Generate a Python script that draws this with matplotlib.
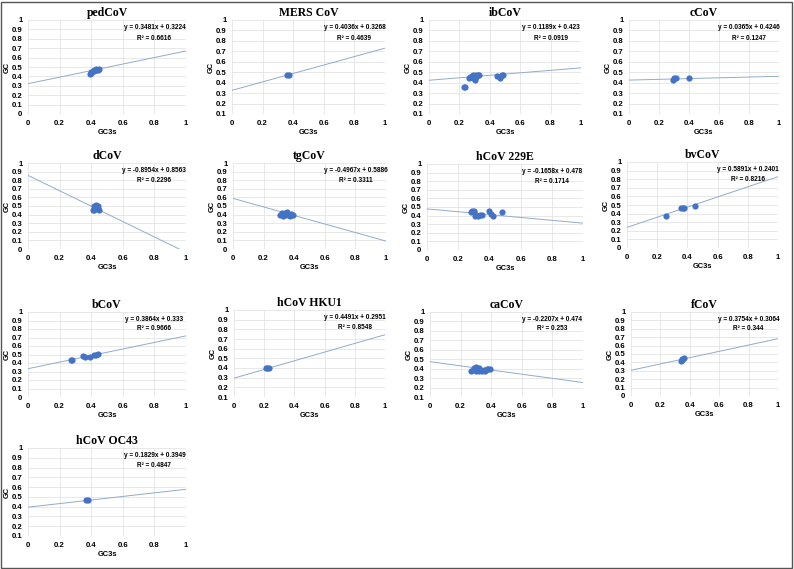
import matplotlib
matplotlib.use("Agg")
import matplotlib.pyplot as plt
from matplotlib import font_manager
import numpy as np
from matplotlib.patches import Rectangle

# ---------------- data ----------------
titles = ["pedCoV", "MERS CoV", "ibCoV", "cCoV",
          "dCoV", "tgCoV", "hCoV 229E", "bvCoV",
          "bCoV", "hCoV HKU1", "caCoV", "fCoV",
          "hCoV OC43"]

slopes = [0.3481, 0.4036, 0.1189, 0.0365,
          -0.8954, -0.4967, -0.1658, 0.5891,
          0.3864, 0.4491, -0.2207, 0.3754,
          0.1829]
intercepts = [0.3224, 0.3268, 0.423, 0.4246,
              0.8563, 0.5886, 0.478, 0.2401,
              0.333, 0.2951, 0.474, 0.3064,
              0.3949]
slope_txt = ["0.3481", "0.4036", "0.1189", "0.0365",
             "-0.8954", "-0.4967", "-0.1658", "0.5891",
             "0.3864", "0.4491", "-0.2207", "0.3754",
             "0.1829"]
icpt_txt = ["0.3224", "0.3268", "0.423", "0.4246",
            "0.8563", "0.5886", "0.478", "0.2401",
            "0.333", "0.2951", "0.474", "0.3064",
            "0.3949"]
r2_txt = ["0.6616", "0.4639", "0.0919", "0.1247",
          "0.2296", "0.3311", "0.1714", "0.8216",
          "0.9666", "0.8548", "0.253", "0.344",
          "0.4847"]
ymins = [0, 0.1, 0.1, 0.1,
         0, 0, 0, 0,
         0, 0.1, 0.1, 0,
         0.1]

ped_x = [0.39, 0.40, 0.41, 0.42, 0.43, 0.44, 0.45, 0.42, 0.43, 0.40]
ped_y = [0.43, 0.45, 0.46, 0.47, 0.47, 0.47, 0.48, 0.46, 0.48, 0.44]
mers_x = [0.36, 0.37]
mers_y = [0.47, 0.47]
ib_x = [0.23, 0.24, 0.26, 0.27, 0.28, 0.29, 0.30, 0.30, 0.31, 0.32, 0.33, 0.29, 0.31,
        0.45, 0.47, 0.48, 0.49]
ib_y = [0.36, 0.36, 0.44, 0.45, 0.46, 0.44, 0.46, 0.43, 0.45, 0.47, 0.47, 0.47, 0.47,
        0.46, 0.44, 0.47, 0.47]
c_x = [0.29, 0.30, 0.31, 0.40]
c_y = [0.43, 0.44, 0.44, 0.44]
d_x = [0.41, 0.42, 0.43, 0.44, 0.45, 0.42]
d_y = [0.45, 0.50, 0.51, 0.50, 0.45, 0.45]
tg_x = [0.31, 0.32, 0.33, 0.34, 0.35, 0.36, 0.37, 0.38, 0.39, 0.34]
tg_y = [0.40, 0.42, 0.38, 0.42, 0.43, 0.40, 0.38, 0.41, 0.40, 0.39]
h229_x = [0.28, 0.29, 0.30, 0.30, 0.31, 0.33, 0.34, 0.35, 0.40, 0.41, 0.42, 0.48]
h229_y = [0.44, 0.45, 0.44, 0.45, 0.39, 0.40, 0.41, 0.41, 0.45, 0.42, 0.40, 0.44]
bv_x = [0.26, 0.36, 0.37, 0.38, 0.45]
bv_y = [0.37, 0.46, 0.47, 0.47, 0.49]
b_x = [0.27, 0.28, 0.35, 0.36, 0.39, 0.42, 0.43, 0.44]
b_y = [0.44, 0.44, 0.48, 0.47, 0.47, 0.50, 0.50, 0.51]
hku_x = [0.21, 0.22, 0.23]
hku_y = [0.40, 0.40, 0.40]
ca_x = [0.27, 0.28, 0.29, 0.30, 0.31, 0.32, 0.33, 0.34, 0.35, 0.36, 0.37, 0.38, 0.39, 0.30, 0.32]
ca_y = [0.38, 0.39, 0.41, 0.42, 0.40, 0.38, 0.39, 0.38, 0.39, 0.38, 0.40, 0.40, 0.40, 0.38, 0.41]
f_x = [0.34, 0.35, 0.36, 0.35]
f_y = [0.42, 0.44, 0.45, 0.43]
oc_x = [0.37, 0.38]
oc_y = [0.47, 0.47]

xs = [ped_x, mers_x, ib_x, c_x, d_x, tg_x, h229_x, bv_x, b_x, hku_x, ca_x, f_x, oc_x]
ys = [ped_y, mers_y, ib_y, c_y, d_y, tg_y, h229_y, bv_y, b_y, hku_y, ca_y, f_y, oc_y]

x_ticks = [0, 0.2, 0.4, 0.6, 0.8, 1]

# ---------------- fonts ----------------
names = {f.name for f in font_manager.fontManager.ttflist}
if "Liberation Sans Narrow" in names:
    eq_family, eq_size = "Liberation Sans Narrow", 5.6
else:
    eq_family, eq_size = "Liberation Sans", 4.7
tick_family = "Liberation Sans" if "Liberation Sans" in names else "DejaVu Sans"

# ---------------- layout (pixel boxes: x0, x1, ytop, ybottom) ----------------
W, H = 794, 569
boxes = [
    (28, 186, 20, 114), (232, 385, 20, 114), (429, 581, 20, 114), (629, 779, 20, 114),
    (28, 186, 163, 249), (233, 386, 163, 249), (427, 583, 164, 250), (627, 778, 162, 248),
    (28, 186, 312, 397), (234, 385, 310, 397), (430, 583, 312, 397), (631, 778, 312, 396),
    (28, 186, 448, 536),
]

fig = plt.figure(figsize=(W / 100, H / 100), dpi=100)
fig.patches.append(Rectangle((1 / W, 1 / H), (W - 3) / W, (H - 3) / H,
                             transform=fig.transFigure, fill=False,
                             edgecolor="#555555", linewidth=1.0))

pt_color = "#4472C4"
line_color = "#93AACB"

for i, t in enumerate(titles):
    x0, x1, yt, yb = boxes[i]
    ax = fig.add_axes([x0 / W, 1 - yb / H, (x1 - x0) / W, (yb - yt) / H])
    ymin = ymins[i]
    ax.set_xlim(0, 1)
    ax.set_ylim(ymin, 1)
    ax.set_xticks(x_ticks)
    ax.set_xticklabels(["0", "0.2", "0.4", "0.6", "0.8", "1"])
    yt_vals = np.round(np.arange(ymin, 1.0001, 0.1), 1)
    ax.set_yticks(yt_vals)
    ax.set_yticklabels(["0" if v == 0 else ("1" if v == 1 else f"{v:g}") for v in yt_vals])
    ax.tick_params(axis="both", length=0, labelsize=5.6, pad=4)
    for lab in ax.get_xticklabels() + ax.get_yticklabels():
        lab.set_fontweight("bold")
        lab.set_fontfamily(tick_family)
    ax.grid(True, color="#E4E4E4", linewidth=0.6)
    ax.set_axisbelow(True)
    for s in ax.spines.values():
        s.set_visible(False)

    lx = np.array([0.0, 1.0])
    ax.plot(lx, slopes[i] * lx + intercepts[i], color=line_color, linewidth=0.7, zorder=2)
    ax.scatter(xs[i], ys[i], s=20, color=pt_color, zorder=3, linewidths=0)

    ax.set_title(t, fontfamily="Liberation Serif", fontweight="bold", fontsize=8.5, pad=3)
    ax.set_xlabel("GC3s", fontsize=5.4, fontweight="bold", labelpad=2, fontfamily=tick_family)
    ax.set_ylabel("GC", fontsize=5.4, fontweight="bold", labelpad=1, fontfamily=tick_family)
    ax.text(0.80, 0.915, f"y = {slope_txt[i]}x + {icpt_txt[i]}", transform=ax.transAxes,
            ha="center", va="center", fontsize=eq_size, fontweight="bold", fontfamily=eq_family)
    ax.text(0.80, 0.80, f"R² = {r2_txt[i]}", transform=ax.transAxes,
            ha="center", va="center", fontsize=eq_size, fontweight="bold", fontfamily=eq_family)

fig.savefig("out.png", dpi=100)
